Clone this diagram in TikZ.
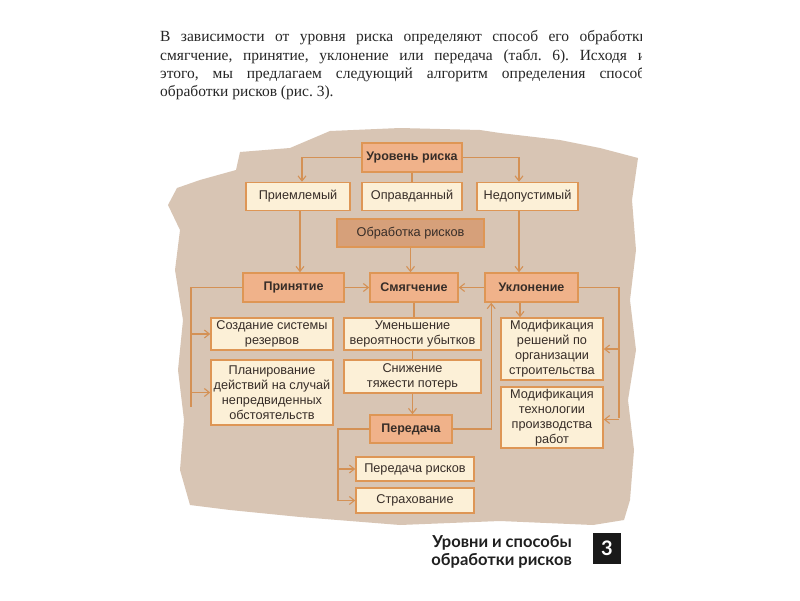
\documentclass[tikz,border=0pt]{standalone}
\usepackage{fontspec}
\setmainfont{Liberation Serif}
\setsansfont{Liberation Sans}
\newfontfamily\capfont{Lato}
\usetikzlibrary{arrows.meta}

\definecolor{bg}{RGB}{216,197,180}
\definecolor{boxfill}{RGB}{252,240,215}
\definecolor{boxline}{RGB}{222,150,85}
\definecolor{salmon}{RGB}{240,178,138}
\definecolor{tanfill}{RGB}{214,160,122}
\definecolor{connc}{RGB}{212,145,85}
\definecolor{txt}{RGB}{55,45,40}

\begin{document}
\frenchspacing
\begin{tikzpicture}[x=1pt,y=-1pt,
  bx/.style={draw=boxline, line width=1.6pt, fill=boxfill, inner sep=0pt, align=center, text=txt,
    font=\sffamily\fontsize{12.7}{15}\selectfont},
  hot/.style={bx, fill=salmon, font=\sffamily\bfseries\fontsize{12.5}{15}\selectfont},
  ln/.style={draw=connc, line width=1.1pt},
  arr/.style={ln, -{Straight Barb[length=5pt,width=8pt]}},
  captext/.style={anchor=base east, inner sep=0pt, font=\capfont\bfseries\fontsize{16.5}{16}\selectfont, text=black!88},
]
\useasboundingbox[fill=white] (0,0) rectangle (800,600);

% paragraph
\begin{scope}
\clip (150,20) rectangle (641.5,110);
\node[anchor=base west, inner sep=0pt, text=black!85, font=\fontsize{15.5}{18.3}\selectfont] (para) at (160,41.7)
{\parbox[t]{492pt}{\tolerance=10000\spaceskip=0.25em plus 3em minus 0.05em
В зависимости от уровня риска определяют способ его обработки:\linebreak
смягчение, принятие, уклонение или передача (табл. 6). Исходя из\linebreak
этого, мы предлагаем следующий алгоритм определения способа\linebreak
обработки рисков (рис. 3).}};
\end{scope}

% background blob
\fill[bg] (177,188) -- (200,180) -- (236,170) -- (240,152) -- (290,148) -- (330,131) -- (400,128)
 -- (480,130) -- (500,133) -- (560,140) -- (600,148) -- (638,158) -- (632,200) -- (636,250)
 -- (630,300) -- (636,350) -- (628,400) -- (634,450) -- (630,500) -- (624,520) -- (593,525)
 -- (500,521) -- (400,525) -- (300,517) -- (230,510) -- (190,505) -- (180,470) -- (184,420)
 -- (178,370) -- (183,320) -- (175,270) -- (180,230) -- (168,205) -- cycle;

% nodes
\node[hot, minimum width=100pt, minimum height=29pt] (lvl) at (412,157.5) {Уровень риска};
\node[bx, minimum width=104pt, minimum height=28pt] (acc) at (298,196.5) {Приемлемый};
\node[bx, minimum width=100pt, minimum height=28pt] (just) at (412,196.5) {Оправданный};
\node[bx, minimum width=101pt, minimum height=28pt] (unacc) at (527.5,196.5) {Недопустимый};
\node[bx, fill=tanfill, minimum width=147pt, minimum height=28pt] (proc) at (410.5,233) {Обработка рисков};

\node[hot, minimum width=101pt, minimum height=29pt] (accept) at (293.5,287.5) {Принятие};
\node[hot, minimum width=88pt, minimum height=29pt] (mitig) at (414,287.5) {Смягчение};
\node[hot, minimum width=93pt, minimum height=29pt] (avoid) at (531.5,287.5) {Уклонение};

\node[bx, minimum width=122pt, minimum height=32pt] (res) at (272,334) {Создание системы\\резервов};
\node[bx, minimum width=137pt, minimum height=32pt] (reduce) at (412.5,334) {Уменьшение\\вероятности убытков};
\node[bx, minimum width=102pt, minimum height=62pt] (modsol) at (552,349) {Модификация\\решений по\\организации\\строительства};
\node[bx, minimum width=122pt, minimum height=65pt] (plan) at (272,392.5) {Планирование\\действий на случай\\непредвиденных\\обстоятельств};
\node[bx, minimum width=137pt, minimum height=33pt] (sev) at (412.5,376.5) {Снижение\\тяжести потерь};
\node[bx, minimum width=102pt, minimum height=61pt] (modtech) at (552,417.5) {Модификация\\технологии\\производства\\работ};

\node[hot, minimum width=82pt, minimum height=28pt] (transf) at (411,429) {Передача};
\node[bx, minimum width=118pt, minimum height=24pt] (trrisk) at (415,469) {Передача рисков};
\node[bx, minimum width=118pt, minimum height=25pt] (insur) at (415,500.5) {Страхование};

% bus coordinates
\coordinate (lbus) at (191,407);
\coordinate (rbus) at (619,418);
\coordinate (pbus) at (338,500.5);

% connectors
\draw[arr] (lvl.west) -| ([xshift=4pt]acc.north);
\draw[arr] (lvl.east) -| ([xshift=-8.5pt]unacc.north);
\draw[ln] (lvl.south) -- (just.north);
\draw[arr] ([xshift=2pt]acc.south) -- ([xshift=2pt]acc.south |- accept.north);
\draw[arr] ([xshift=-8.5pt]unacc.south) -- ([xshift=-8.5pt]unacc.south |- avoid.north);
\draw[arr] (proc.south) -- (proc.south |- mitig.north);
\draw[arr] (accept.east) -- (mitig.west);
\draw[arr] (avoid.west) -- (mitig.east);

\draw[ln] (accept.west) -| (lbus);
\draw[arr] (res.west -| lbus) -- (res.west);
\draw[arr] (plan.west -| lbus) -- (plan.west);

\draw[ln] (avoid.east) -| (rbus);
\draw[arr] (modsol.east -| rbus) -- (modsol.east);
\draw[arr] ([yshift=-2pt]modtech.east -| rbus) -- ([yshift=-2pt]modtech.east);

\draw[arr] ([xshift=-11.5pt]avoid.south) -- ([xshift=-11.5pt]avoid.south |- modsol.north);

\draw[ln] (mitig.south) -- (mitig.south |- reduce.north);
\draw[ln] (reduce.south) -- (reduce.south |- sev.north);
\draw[arr] (sev.south) -- (sev.south |- transf.north);

\draw[arr] (transf.east) -| ([xshift=7pt]avoid.south west);
\draw[ln] (transf.west) -| (pbus);
\draw[arr] (trrisk.west -| pbus) -- (trrisk.west);
\draw[arr] (pbus) -- (insur.west);

% caption
\node[captext] (cap1) at (572,547.5) {Уровни и способы};
\node[captext] (cap2) at (572,565) {обработки рисков};
\node[fill=black!90, minimum width=28pt, minimum height=31pt, inner sep=0pt, text=white,
  font=\capfont\bfseries\fontsize{20}{20}\selectfont] (num) at (607,548.5) {3};
\end{tikzpicture}
\end{document}
